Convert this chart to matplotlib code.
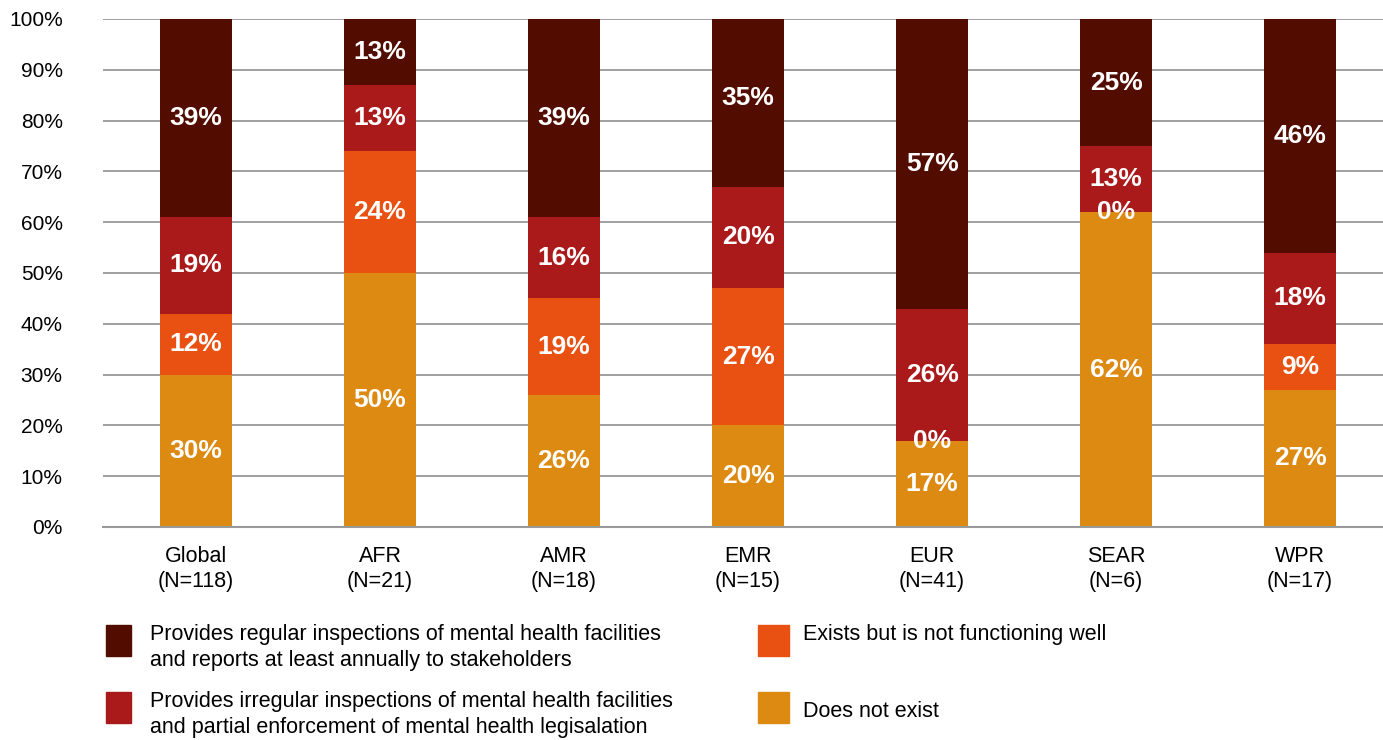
import matplotlib
matplotlib.use("Agg")
import matplotlib.pyplot as plt
from matplotlib.patches import Rectangle
import numpy as np

plt.rcParams['font.family'] = ['Liberation Sans', 'DejaVu Sans']

regioes = ['Global\n(N=118)', 'AFR\n(N=21)', 'AMR\n(N=18)', 'EMR\n(N=15)',
           'EUR\n(N=41)', 'SEAR\n(N=6)', 'WPR\n(N=17)']

# percentagens por categoria, de baixo para cima
nao_existe = [30, 50, 26, 20, 17, 62, 27]
nao_funciona = [12, 24, 19, 27, 0, 0, 9]
irregular = [19, 13, 16, 20, 26, 13, 18]
regular = [39, 13, 39, 35, 57, 25, 46]

series = [
    (nao_existe, '#DC8A12', 'Does not exist'),
    (nao_funciona, '#E85112', 'Exists but is not functioning well'),
    (irregular, '#AA1A1A', 'Provides irregular inspections of mental health facilities\nand partial enforcement of mental health legisalation'),
    (regular, '#520C00', 'Provides regular inspections of mental health facilities\nand reports at least annually to stakeholders'),
]

W, H = 1383, 740
fig = plt.figure(figsize=(W / 100, H / 100), dpi=100)
ax = fig.add_axes([103 / W, 1 - 527 / H, (W - 103) / W, (527 - 19) / H])

x = np.arange(len(regioes))
base = np.zeros(len(regioes))
for valores, cor, _ in series:
    v = np.array(valores, dtype=float)
    ax.bar(x, v, 0.39, bottom=base, color=cor, zorder=2)
    for xi, b, vi in zip(x, base, v):
        ax.text(xi, b + vi / 2, f'{int(vi)}%', ha='center', va='center',
                color='white', fontsize=19, fontweight='bold', zorder=3)
    base = base + v

ax.set_ylim(0, 100)
ax.set_xlim(-0.505, 6.45)
ax.set_yticks(range(0, 101, 10))
ax.set_yticklabels([f'{t}%' for t in range(0, 101, 10)], fontsize=15)
ax.set_xticks(x)
ax.set_xticklabels(regioes, fontsize=15.5, linespacing=1.22)
ax.tick_params(axis='y', length=0, pad=29)
ax.tick_params(axis='x', length=0, pad=14)
ax.grid(axis='y', color='#999999', linewidth=1.3, zorder=0)
for s in ['left', 'right', 'top']:
    ax.spines[s].set_visible(False)
ax.spines['bottom'].set_color('#999999')
ax.spines['bottom'].set_linewidth(1.5)

# legenda manual em duas colunas
itens = [
    (series[3], 106, 625, 25, 150, 624),
    (series[2], 106, 692, 25, 150, 691),
    (series[1], 758, 625, 31, 803, 624),
    (series[0], 758, 692, 31, 803, 701),
]
for (valores, cor, rotulo), sx, sy, lq, tx, ty in itens:
    fig.add_artist(Rectangle((sx / W, 1 - (sy + 31) / H), lq / W, 31 / H,
                             transform=fig.transFigure, color=cor))
    fig.text(tx / W, 1 - ty / H, rotulo, ha='left', va='top',
             fontsize=15.5, linespacing=1.32)

fig.savefig('out.png', dpi=100)
